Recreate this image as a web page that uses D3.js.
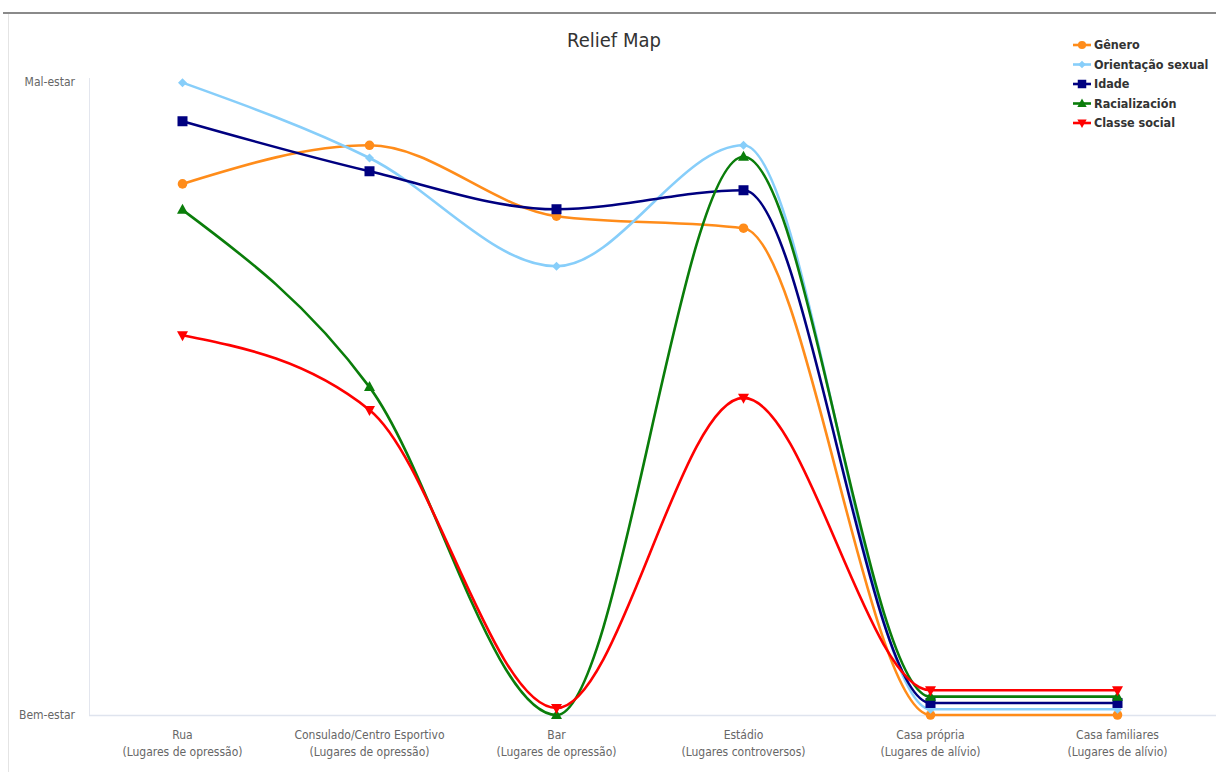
<!DOCTYPE html>
<html>
<head>
<meta charset="utf-8">
<script src="https://cdn.jsdelivr.net/npm/d3@7"></script>
<style>
  html, body { margin: 0; padding: 0; background: #fff; }
  svg { display: block; }
  text { font-family: "DejaVu Sans Condensed", "Liberation Sans Narrow", "DejaVu Sans", sans-serif; }
</style>
</head>
<body>
<svg id="chart" width="1216" height="772"></svg>
<script>
// Places along the x axis (two-line labels)
const places = [
  ["Rua", "(Lugares de opressão)"],
  ["Consulado/Centro Esportivo", "(Lugares de opressão)"],
  ["Bar", "(Lugares de opressão)"],
  ["Estádio", "(Lugares controversos)"],
  ["Casa própria", "(Lugares de alívio)"],
  ["Casa familiares", "(Lugares de alívio)"]
];

// Discomfort level per place, 0 = Bem-estar, 100 = Mal-estar
const genero        = [83.9, 90.0, 78.8, 76.9, 0.0, 0.0];
const orientacao    = [99.9, 88.0, 70.9, 90.0, 0.9, 0.9];
const idade         = [93.8, 85.9, 79.9, 82.9, 1.9, 1.9];
const racializacion = [79.8, 51.8, 0.0, 88.2, 2.9, 2.9];
const classe        = [60.0, 48.2, 1.1, 50.1, 3.9, 3.9];

const yTickValues = [0, 100];
const yTickLabels = ["Bem-estar", "Mal-estar"];

const seriesNames = ["Gênero", "Orientação sexual", "Idade", "Racialización", "Classe social"];

const series = [
  { name: seriesNames[0], values: genero,        color: "#ff8c1a", symbol: "circle" },
  { name: seriesNames[1], values: orientacao,    color: "#87cefa", symbol: "diamond" },
  { name: seriesNames[2], values: idade,         color: "#000080", symbol: "square" },
  { name: seriesNames[3], values: racializacion, color: "#0a7d0a", symbol: "triUp" },
  { name: seriesNames[4], values: classe,        color: "#ff0000", symbol: "triDown" }
];

const svg = d3.select("#chart");

// Frame lines
svg.append("line").attr("x1", 3).attr("x2", 1216).attr("y1", 13).attr("y2", 13)
  .attr("stroke", "#8a8a8a").attr("stroke-width", 2);
svg.append("line").attr("x1", 8.5).attr("x2", 8.5).attr("y1", 14).attr("y2", 772)
  .attr("stroke", "#e4e4e4").attr("stroke-width", 1);

const plot = { left: 89, right: 1211, top: 82, bottom: 715 };

const x = d3.scaleBand()
  .domain(places.map((d, i) => i))
  .range([plot.left, plot.right]);
const xc = i => x(i) + x.bandwidth() / 2;

const y = d3.scaleLinear().domain([0, 100]).range([plot.bottom, plot.top]);

// Axis lines
svg.append("line").attr("x1", plot.left).attr("x2", 1216)
  .attr("y1", plot.bottom + 0.5).attr("y2", plot.bottom + 0.5)
  .attr("stroke", "#dfe4ee").attr("stroke-width", 1.5);
svg.append("line").attr("x1", plot.left + 0.5).attr("x2", plot.left + 0.5)
  .attr("y1", 78).attr("y2", plot.bottom)
  .attr("stroke", "#e3e6ee").attr("stroke-width", 1);

// Y tick labels
svg.append("g").selectAll("text").data(yTickValues).join("text")
  .attr("x", 75).attr("y", d => y(d)).attr("dy", "0.35em")
  .attr("text-anchor", "end").attr("font-size", 12).attr("fill", "#666")
  .text((d, i) => yTickLabels[i]);

// X tick labels
const xl = svg.append("g").selectAll("text").data(places).join("text")
  .attr("text-anchor", "middle").attr("font-size", 12).attr("fill", "#666");
xl.append("tspan").attr("x", (d, i) => xc(i)).attr("y", 739).text(d => d[0]);
xl.append("tspan").attr("x", (d, i) => xc(i)).attr("y", 756).text(d => d[1]);

// Title
svg.append("text").attr("x", 614).attr("y", 47).attr("text-anchor", "middle")
  .attr("font-size", 20).attr("fill", "#333").text("Relief Map");

// Marker shapes
function drawMarker(g, symbol, color, s) {
  if (symbol === "circle") {
    g.append("circle").attr("r", 4.8 * s).attr("fill", color);
  } else if (symbol === "diamond") {
    g.append("path").attr("d", `M0,${-4.5*s}L${4.5*s},0L0,${4.5*s}L${-4.5*s},0Z`).attr("fill", color);
  } else if (symbol === "square") {
    g.append("rect").attr("x", -5 * s).attr("y", -5 * s).attr("width", 10 * s).attr("height", 10 * s).attr("fill", color);
  } else if (symbol === "triUp") {
    g.append("path").attr("d", `M0,${-6*s}L${5.5*s},${4*s}L${-5.5*s},${4*s}Z`).attr("fill", color);
  } else if (symbol === "triDown") {
    g.append("path").attr("d", `M0,${6*s}L${5.5*s},${-4*s}L${-5.5*s},${-4*s}Z`).attr("fill", color);
  }
}

const line = d3.line()
  .x((d, i) => xc(i))
  .y(d => y(d))
  .curve(d3.curveMonotoneX);

const sg = svg.append("g").selectAll("g").data(series).join("g");
sg.append("path")
  .attr("d", d => line(d.values))
  .attr("fill", "none")
  .attr("stroke", d => d.color)
  .attr("stroke-width", 2.6);

sg.each(function(d) {
  const g = d3.select(this);
  d.values.forEach((v, i) => {
    const m = g.append("g").attr("transform", `translate(${xc(i)},${y(v)})`);
    drawMarker(m, d.symbol, d.color, 1);
  });
});

// Legend
const legend = svg.append("g").attr("transform", "translate(1073,45)");
const li = legend.selectAll("g").data(series).join("g")
  .attr("transform", (d, i) => `translate(0,${i * 19.5})`);
li.append("line").attr("x1", 0).attr("x2", 18).attr("y1", 0).attr("y2", 0)
  .attr("stroke", d => d.color).attr("stroke-width", 2.6);
li.each(function(d) {
  const m = d3.select(this).append("g").attr("transform", "translate(9,0)");
  drawMarker(m, d.symbol, d.color, 0.85);
});
li.append("text").attr("x", 21).attr("y", 0).attr("dy", "0.35em")
  .attr("font-size", 12.5).attr("font-weight", "bold").attr("fill", "#333")
  .text(d => d.name);
</script>
</body>
</html>
